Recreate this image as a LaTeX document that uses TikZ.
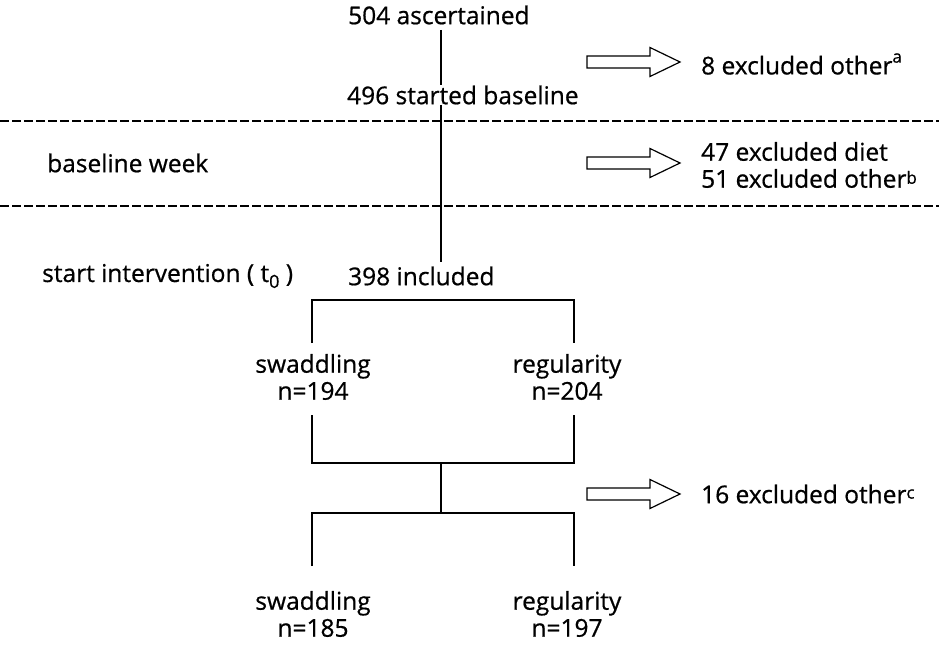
\documentclass[tikz,border=0pt]{standalone}
\usepackage{fontspec}
\setmainfont{Open Sans}[FakeBold=0.7]
\begin{document}
\begin{tikzpicture}[x=1pt,y=-1pt,
  lbl/.style={inner sep=0pt, font=\fontsize{24.5}{27}\selectfont, align=center},
  lbll/.style={lbl, anchor=west, align=left},
  conn/.style={line width=1.4pt},
  sep/.style={line width=1.1pt, dash pattern=on 9pt off 3pt},
  fatarr/.style={line width=1.2pt, fill=white, line join=miter}]
\useasboundingbox (0,0) rectangle (939,650);
\newcommand{\supx}[2]{\raisebox{#1}{\fontsize{17}{17}\selectfont #2}}
% main nodes
\node[lbll] (n504) at (348,15) {504 ascertained};
\node[lbll] (n496) at (347,95) {496 started baseline};
\node[lbll] (n398) at (348,276) {398 included};
\node[lbll] (bw) at (47,163) {baseline week};
\node[lbll] (si) at (42,276) {start intervention ( t\raisebox{-0.45ex}{\fontsize{18}{18}\selectfont 0} )};
\node[lbl] (sw1) at (313,377) {swaddling\\n=194};
\node[lbl] (rg1) at (567,377) {regularity\\n=204};
\node[lbl] (sw2) at (313,614) {swaddling\\n=185};
\node[lbl] (rg2) at (567,614) {regularity\\n=197};
\node[lbll] (ex1) at (701,64) {8 excluded other\supx{0.9ex}{a}};
\node[lbll] (ex2) at (701,165) {47 excluded diet\\51 excluded other\supx{0.3ex}{b}};
\node[lbll] (ex3) at (701,494) {16 excluded other\supx{0.35ex}{c}};
% coordinates
\coordinate (c1) at (441,30);
\coordinate (c2) at (441,85);
\coordinate (c3) at (441,105);
\coordinate (c4) at (441,262);
\coordinate (bl) at (312,300);
\coordinate (br) at (574,300);
\coordinate (bl2) at (312,343);
\coordinate (br2) at (574,343);
\coordinate (ml) at (312,415);
\coordinate (mr) at (574,415);
\coordinate (ml2) at (312,463);
\coordinate (mr2) at (574,463);
\coordinate (mc) at (441,463);
\coordinate (lc) at (441,513);
\coordinate (ll) at (312,513);
\coordinate (lr) at (574,513);
\coordinate (ll2) at (312,566);
\coordinate (lr2) at (574,566);
% separators
\draw[sep] (0,121) -- (939,121);
\draw[sep] (0,206) -- (939,206);
% connectors
\draw[conn] (c1) -- (c2);
\draw[conn] (c3) -- (c4);
\draw[conn] (bl2) -- (bl) -- (br) -- (br2);
\draw[conn] (ml) -- (ml2) -- (mr2) -- (mr);
\draw[conn] (mc) -- (lc);
\draw[conn] (ll2) -- (ll) -- (lr) -- (lr2);
% block arrows
\foreach \yy in {62,163,494}{
  \draw[fatarr, shift={(587,\yy)}] (0,-6) -- (63,-6) -- (63,-14.5) -- (93,0) -- (63,14.5) -- (63,6) -- (0,6) -- cycle;
}
\end{tikzpicture}
\end{document}
